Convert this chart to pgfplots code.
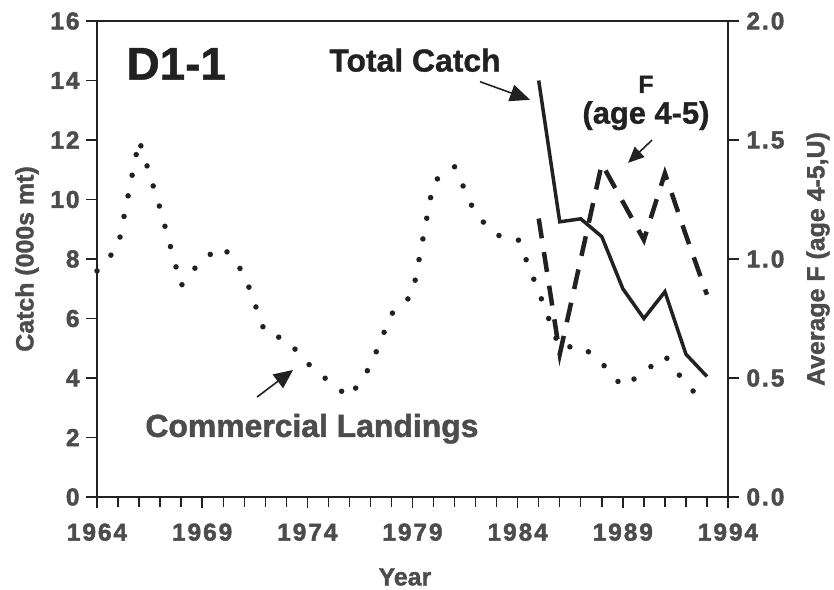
\documentclass[border=0pt]{standalone}
\usepackage{fontspec}
\setmainfont{Liberation Sans}
\usepackage{pgfplots}
\pgfplotsset{compat=1.18}
\usetikzlibrary{arrows.meta}
\definecolor{ink}{gray}{0.13}
\definecolor{txt}{gray}{0.30}

\pgfplotstableread{
year val
1964 7.6
1965 8.4
1966 12.0
1967 9.7
1968 7.1
1969 8.0
1970 8.4
1971 7.5
1972 5.5
1973 5.3
1974 4.5
1975 3.9
1976 3.35
1977 4.4
1978 6.15
1979 6.8
1980 10.6
1981 11.1
1982 9.5
1983 8.8
1984 8.7
1985 6.9
1986 5.0
1987 5.1
1988 4.5
1989 3.7
1990 4.2
1991 4.75
1992 3.8
1993 3.1
}\landings

\pgfplotstableread{
year val
1985 14.0
1986 9.25
1987 9.35
1988 8.75
1989 7.0
1990 6.0
1991 6.9
1992 4.8
1993 4.05
}\totalcatch

\pgfplotstableread{
year val
1985 1.17
1986 0.60
1987 1.00
1988 1.40
1989 1.24
1990 1.08
1991 1.36
1992 1.10
1993 0.85
}\fishingF

\begin{document}
\begin{tikzpicture}[x=1bp,y=1bp]
\path[use as bounding box] (0,0) rectangle (834,590);
\pgfplotsset{
  common/.style={
    at={(97bp,93bp)}, anchor=south west,
    scale only axis, width=631bp, height=476bp,
    xmin=1964, xmax=1994,
    tick align=outside,
    major tick length=11bp, minor tick length=10bp,
    axis line style={line width=1.8bp, ink},
    every tick/.style={line width=1.4bp, ink},
    tick label style={font=\fontsize{24.5}{25}\selectfont\bfseries\addfontfeature{LetterSpace=8,FakeBold=2}, text=txt},
    /pgf/number format/assume math mode=true,
    label style={font=\fontsize{25}{25}\selectfont\bfseries\addfontfeature{FakeBold=1.5}, text=txt},
  }
}
\begin{axis}[common,
  ymin=0, ymax=16,
  xtick={1964,1969,...,1994}, minor x tick num=4,
  ytick={0,2,...,16},
  xtick pos=left, ytick pos=left,
  xticklabel style={yshift=-12bp},
  yticklabel style={xshift=-3bp},
  /pgf/number format/set thousands separator={},
  xlabel={Year}, ylabel={Catch (000s mt)},
  xlabel style={at={(axis description cs:0.488,-0.168)}, anchor=center},
  ylabel style={at={(axis description cs:-0.111,0.5)}, anchor=center, rotate=0},
  clip=false,
]
\addplot[ink, line width=5.5bp, line cap=round, dash pattern=on 0bp off 21bp] table[x=year,y=val]{\landings};
\addplot[ink, line width=3.5bp, line join=miter] table[x=year,y=val]{\totalcatch};

\node[font=\fontsize{46}{46}\selectfont\bfseries\addfontfeature{FakeBold=1}, text=ink, anchor=base] at (axis cs:1967.77,14.03) {D1-1};
\node[font=\fontsize{32}{32}\selectfont\bfseries\addfontfeature{FakeBold=1}, text=ink, anchor=base] at (axis cs:1979.12,14.3) {Total Catch};
\node[font=\fontsize{25}{25}\selectfont\bfseries\addfontfeature{FakeBold=1}, text=ink, anchor=base, inner sep=0pt] at (axis cs:1990.1,13.58) {F};
\node[font=\fontsize{31}{31}\selectfont\bfseries\addfontfeature{FakeBold=1}, text=ink, anchor=base, inner sep=0pt] at (axis cs:1990.1,12.55) {(age 4-5)};
\node[font=\fontsize{32}{32}\selectfont\bfseries\addfontfeature{FakeBold=1.5}, text=txt, anchor=base] at (axis cs:1974.22,2.02) {Commercial Landings};

\draw[ink, line width=1.6bp, -{Triangle[length=20bp,width=17bp]}] (axis cs:1982.21,13.96) -- (axis cs:1984.59,13.35);
\draw[ink, line width=1.6bp, -{Triangle[length=16bp,width=14bp]}] (axis cs:1990.39,12.0) -- (axis cs:1989.25,11.23);
\draw[ink, line width=1.6bp, -{Triangle[length=19bp,width=17bp]}] (axis cs:1971.61,3.36) -- (axis cs:1973.32,4.27);
\end{axis}

\begin{axis}[common,
  ymin=0, ymax=2,
  axis x line=none, axis y line*=right,
  ytick={0,0.5,...,2}, ytick pos=right,
  yticklabel style={xshift=4bp, /pgf/number format/.cd, fixed, fixed zerofill, precision=1},
  ylabel={Average F (age 4-5,U)},
  ylabel style={at={(axis description cs:1.1426,0.5)}, anchor=center, rotate=0},
]
\addplot[ink, line width=4.5bp, dash pattern=on 20bp off 14bp] table[x=year,y=val]{\fishingF};
\end{axis}
\end{tikzpicture}
\end{document}
